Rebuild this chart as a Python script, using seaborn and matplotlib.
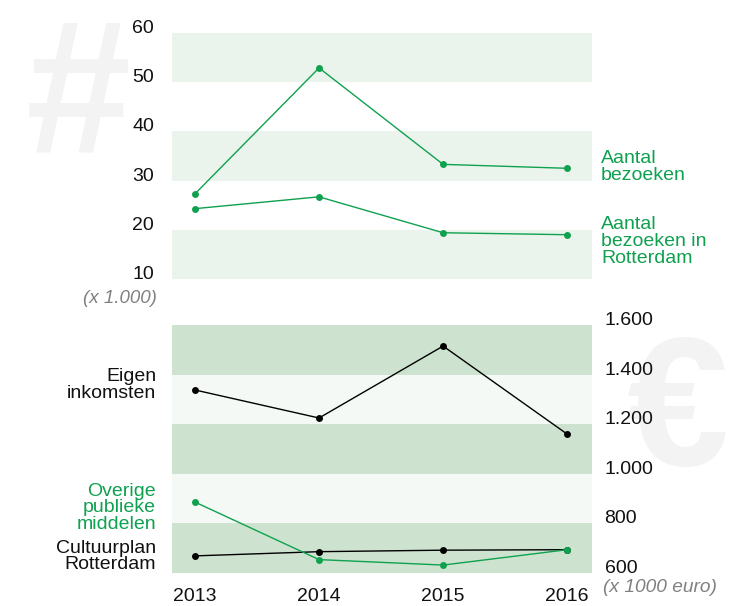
import pandas as pd
import seaborn as sns
import matplotlib.pyplot as plt

years = [2013, 2014, 2015, 2016]

# bezoeken (x 1.000)
bezoeken = [27.3, 52.9, 33.3, 32.5]
bezoeken_rdam = [24.3, 26.7, 19.4, 19.0]

# inkomsten (x 1000 euro)
eigen_inkomsten = [1338, 1225, 1515, 1160]
cultuurplan = [669, 686, 692, 694]
overige_publiek = [886, 654, 632, 694]

top_ticks = [10, 20, 30, 40, 50, 60]
bottom_ticks = [600, 800, 1000, 1200, 1400, 1600]
bottom_ticklabels = ['600', '800', '1.000', '1.200', '1.400', '1.600']

green = '#0fa14f'
ink = '#111111'
W, H = 747, 606
fs = 14

sns.set_theme(style='white')
plt.rcParams['font.family'] = ['Liberation Sans', 'DejaVu Sans']

fig = plt.figure(figsize=(W / 100, H / 100), dpi=100)

def px_axes(x0, x1, y0, y1, **kw):
    # y0 = top pixel, y1 = bottom pixel
    return fig.add_axes([x0 / W, (H - y1) / H, (x1 - x0) / W, (y1 - y0) / H], **kw)

# watermarks, behind everything
bg = px_axes(0, W, 0, H, zorder=-5)
bg.set_axis_off()
bg.set_xlim(0, W)
bg.set_ylim(H, 0)
bg.text(78, 151, '#', fontsize=136, fontweight='bold', color='#f3f3f3',
        ha='center', va='baseline')
euro_clip = plt.Rectangle((600, 300), 132, 200, transform=bg.transData)
euro = bg.text(626, 465, '€', fontsize=132, fontweight='bold', color='#f3f3f3',
               ha='left', va='baseline')
euro.set_clip_path(euro_clip)

xlim = (2012.815, 2016.2)

# ---- top chart
ax1 = px_axes(172, 592, 33, 279)
ax1.patch.set_alpha(0)
for lo in [10, 30, 50]:
    ax1.axhspan(lo, lo + 10, color='#eaf4ec', lw=0, zorder=0)

df_top = pd.DataFrame({
    'jaar': years * 2,
    'waarde': bezoeken + bezoeken_rdam,
    'reeks': ['Aantal bezoeken'] * 4 + ['Aantal bezoeken in Rotterdam'] * 4,
})
sns.lineplot(data=df_top, x='jaar', y='waarde', units='reeks', estimator=None,
             color=green, marker='o', markersize=5, markeredgewidth=0, lw=1, ax=ax1)
ax1.set_xlim(*xlim)
ax1.set_ylim(10, 60)
ax1.set_yticks(top_ticks)
ax1.set_yticklabels([str(t) for t in top_ticks])
ax1.set_xticks([])
ax1.tick_params(axis='y', length=0, pad=13, labelsize=fs, labelcolor=ink)
for lab in ax1.get_yticklabels():
    lab.set_va('baseline')
ax1.set_xlabel('')
ax1.set_ylabel('')
sns.despine(ax=ax1, left=True, bottom=True)

fig.text(157 / W, 1 - 298 / H, '(x 1.000)', fontsize=13.5, style='italic', color='#808080',
         ha='right', va='center')
fig.text(601 / W, 1 - 150 / H, 'Aantal\nbezoeken', fontsize=fs, color=green,
         ha='left', va='top', linespacing=1.0)
fig.text(601 / W, 1 - 216 / H, 'Aantal\nbezoeken in\nRotterdam', fontsize=fs, color=green,
         ha='left', va='top', linespacing=1.0)

# ---- bottom chart
ax2 = px_axes(172, 592, 325, 573)
ax2.patch.set_alpha(0)
for lo in [600, 1000, 1400]:
    ax2.axhspan(lo, lo + 200, color='#cde3cf', lw=0, zorder=0)
for lo in [800, 1200]:
    ax2.axhspan(lo, lo + 200, color='#f4f9f5', lw=0, zorder=0)

df_bot = pd.DataFrame({
    'jaar': years * 3,
    'waarde': eigen_inkomsten + cultuurplan + overige_publiek,
    'reeks': ['Eigen inkomsten'] * 4 + ['Cultuurplan Rotterdam'] * 4 + ['Overige publieke middelen'] * 4,
})
sns.lineplot(data=df_bot, x='jaar', y='waarde', hue='reeks',
             palette={'Eigen inkomsten': 'black', 'Cultuurplan Rotterdam': 'black',
                      'Overige publieke middelen': green},
             marker='o', markersize=5, markeredgewidth=0, lw=1, legend=False, ax=ax2)
ax2.set_xlim(*xlim)
ax2.set_ylim(600, 1600)
ax2.yaxis.tick_right()
ax2.set_yticks(bottom_ticks)
ax2.set_yticklabels(bottom_ticklabels)
ax2.set_xticks(years)
ax2.set_xticklabels([str(y) for y in years])
ax2.tick_params(axis='y', length=0, pad=9, labelsize=fs, labelcolor=ink)
ax2.tick_params(axis='x', length=0, pad=11, labelsize=fs, labelcolor=ink)
for lab in ax2.get_yticklabels():
    lab.set_va('baseline')
ax2.set_xlabel('')
ax2.set_ylabel('')
sns.despine(ax=ax2, left=True, bottom=True, right=True)

fig.text(603 / W, 1 - 587 / H, '(x 1000 euro)', fontsize=13.8, style='italic', color='#808080',
         ha='left', va='center')
fig.text(156 / W, 1 - 368 / H, 'Eigen\ninkomsten', fontsize=fs, color=ink,
         ha='right', va='top', linespacing=1.0)
fig.text(156 / W, 1 - 483 / H, 'Overige\npublieke\nmiddelen', fontsize=fs, color=green,
         ha='right', va='top', linespacing=0.95)
fig.text(156 / W, 1 - 540 / H, 'Cultuurplan\nRotterdam', fontsize=fs, color=ink,
         ha='right', va='top', linespacing=0.95)

fig.savefig('out.png', dpi=100)
